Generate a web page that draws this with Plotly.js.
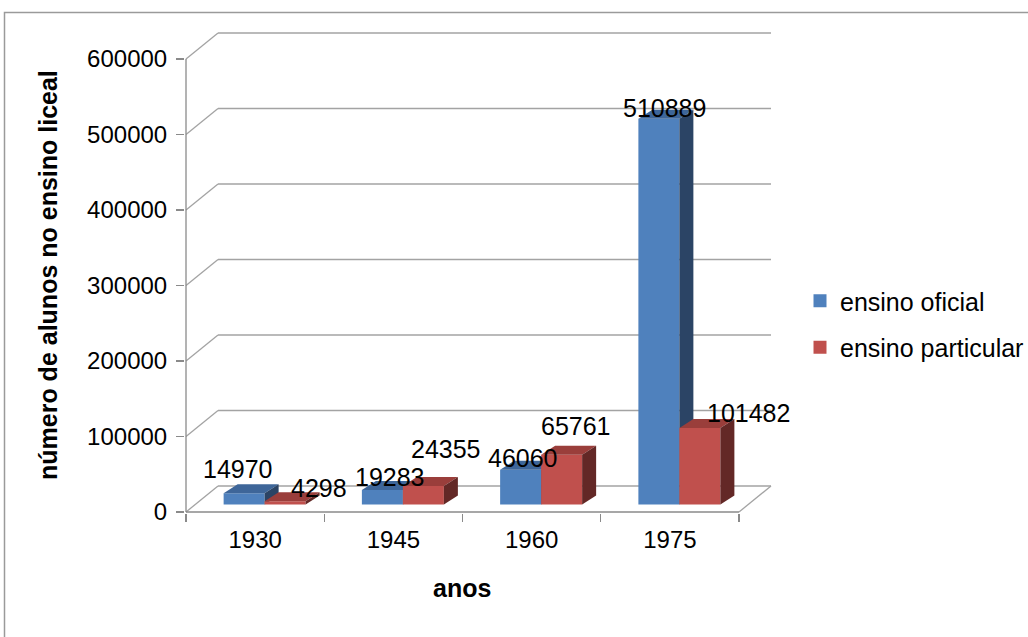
<!DOCTYPE html>
<html><head><meta charset="utf-8">
<script src="https://cdn.plot.ly/plotly-3.0.1.min.js"></script>
<style>html,body{margin:0;padding:0;background:#fff;overflow:hidden}#chart{width:1028px;height:637px}</style>
</head><body><div id="chart"></div>
<script>
// ---- data ----
const categories = ['1930', '1945', '1960', '1975'];
const seriesNames = ['ensino oficial', 'ensino particular'];
const ensinoOficial = [14970, 19283, 46060, 510889];
const ensinoParticular = [4298, 24355, 65761, 101482];
const yTickValues = [0, 100000, 200000, 300000, 400000, 500000, 600000];
const yTickLabels = ['0', '100000', '200000', '300000', '400000', '500000', '600000'];
const xTitle = 'anos';
const yTitle = 'número de alunos no ensino liceal';

// ---- styles ----
const frontColors = ['#4F81BD', '#C0504D'];
const topColors = ['#3E6699', '#9A3E3B'];
const sideColors = ['#2B4465', '#632826'];
const gridColor = '#a3a3a3';
const axisColor = '#8a8a8a';
const FONT = '"Liberation Sans", Arial, sans-serif';
// label offsets in px (right, up) from the centre of each bar's top face
const labelOffsets = [
  [[-13, 20], [1, 8], [-5, 7], [-1, 6]],
  [[27, 9], [16, 33], [7, 24], [42, 10]]
];

// ---- geometry (px) ----
const W = 1028, H = 637;
const PL = 185, PR = 772, PT = 28, PB = 513;   // plot area
const AX = 186, AY = 512;                      // front axis origin
const CW = 138.25;                             // px per category
const SY = 75.5 / 100000;                      // px per unit
const WALL = [32, 26];                         // back wall offset (right, up)
const BAR_OFF = [9.5, 7.5], BAR_W = 41, DEPTH = [14, 9];
const dx = p => p / CW, dy = p => p / SY;
const xMin = -0.5 - dx(AX - PL), xMax = -0.5 + dx(PR - AX);
const yMin = -dy(PB - AY), yMax = dy(AY - PT);
const pX = p => (p - PL) / (PR - PL);
const pY = p => (PB - p) / (PB - PT);

const series = [ensinoOficial, ensinoParticular];
const n = categories.length;
const traces = [];

// back wall gridlines + diagonals
const xL = -0.5 + dx(WALL[0]), xR = n - 0.5 + dx(WALL[0]);
const gx = [], gy = [], qx = [], qy = [];
yTickValues.forEach(v => {
  gx.push(xL, xR, null); gy.push(v + dy(WALL[1]), v + dy(WALL[1]), null);
  qx.push(-0.5, xL, null); qy.push(v, v + dy(WALL[1]), null);
});
qx.push(n - 0.5, xR, null); qy.push(0, dy(WALL[1]), null);
traces.push({x: gx, y: gy, mode: 'lines', line: {color: gridColor, width: 1.3}, hoverinfo: 'skip', showlegend: false});
traces.push({x: qx, y: qy, mode: 'lines', line: {color: gridColor, width: 1.3}, hoverinfo: 'skip', showlegend: false});
// front axes
const maxTick = yTickValues[yTickValues.length - 1];
traces.push({x: [-0.5, -0.5, null, -0.5, n - 0.5], y: [maxTick, 0, null, 0, 0], mode: 'lines',
  line: {color: axisColor, width: 1.3}, hoverinfo: 'skip', showlegend: false});

// bars
function face(xs, ys, color) {
  traces.push({x: xs.concat([xs[0]]), y: ys.concat([ys[0]]), mode: 'lines', fill: 'toself',
    fillcolor: color, line: {width: 0, color: color}, hoverinfo: 'skip', showlegend: false});
}
const annotations = [];
for (let i = 0; i < n; i++) {
  for (let s = 0; s < series.length; s++) {
    const v = series[s][i];
    const x0 = i + dx(BAR_OFF[0] + (s === 0 ? -BAR_W : 0));
    const x1 = x0 + dx(BAR_W);
    const yb = dy(BAR_OFF[1]);
    const yt = yb + v;
    const ddx = dx(DEPTH[0]), ddy = dy(DEPTH[1]);
    face([x0, x1, x1, x0], [yb, yb, yt, yt], frontColors[s]);
    face([x0, x1, x1 + ddx, x0 + ddx], [yt, yt, yt + ddy, yt + ddy], topColors[s]);
    face([x1, x1 + ddx, x1 + ddx, x1], [yb, yb + ddy, yt + ddy, yt], sideColors[s]);
    const off = labelOffsets[s][i];
    annotations.push({x: (x0 + x1) / 2 + ddx / 2, y: yt + ddy / 2, xref: 'x', yref: 'y',
      text: String(v), showarrow: false, xanchor: 'center', yanchor: 'middle',
      xshift: off[0], yshift: off[1], font: {family: FONT, size: 25, color: '#000'}});
  }
}

// legend entries
for (let s = 0; s < series.length; s++) {
  traces.push({x: [null], y: [null], mode: 'markers', name: seriesNames[s], legendgroup: 'g' + s,
    marker: {symbol: 'square', size: 13, color: frontColors[s]}, hoverinfo: 'skip'});
}

// axis titles
annotations.push({x: pX(48), y: pY(275), xref: 'paper', yref: 'paper', text: '<b>' + yTitle + '</b>',
  textangle: -90, showarrow: false, xanchor: 'center', yanchor: 'middle', font: {family: FONT, size: 25, color: '#000'}});
annotations.push({x: pX(462), y: pY(588), xref: 'paper', yref: 'paper', text: '<b>' + xTitle + '</b>',
  showarrow: false, xanchor: 'center', yanchor: 'middle', font: {family: FONT, size: 25, color: '#000'}});

const boundaries = [];
for (let i = 0; i <= n; i++) boundaries.push(i - 0.5);

const layout = {
  width: W, height: H,
  margin: {l: PL, r: W - PR, t: PT, b: H - PB, pad: 0, autoexpand: false},
  paper_bgcolor: '#ffffff', plot_bgcolor: 'rgba(0,0,0,0)',
  font: {family: FONT, size: 24, color: '#000'},
  showlegend: true,
  legend: {x: pX(800), xanchor: 'left', y: pY(278), yanchor: 'top', traceorder: 'grouped', tracegroupgap: 11,
    font: {family: FONT, size: 25, color: '#000'}, bgcolor: 'rgba(0,0,0,0)', itemclick: false, itemdoubleclick: false},
  xaxis: {range: [xMin, xMax], tickmode: 'array', tickvals: categories.map((c, i) => i), ticktext: categories,
    ticks: '', showgrid: false, zeroline: false, showline: false, ticklabelstandoff: 10, fixedrange: true,
    minor: {tickmode: 'array', tickvals: boundaries, ticks: 'outside', ticklen: 8, tickcolor: axisColor, tickwidth: 1.3, showgrid: false}},
  yaxis: {range: [yMin, yMax], tickmode: 'array', tickvals: yTickValues, ticktext: yTickLabels,
    ticks: 'outside', ticklen: 8, tickcolor: axisColor, tickwidth: 1.3, showgrid: false, zeroline: false, showline: false,
    ticklabelstandoff: 4, fixedrange: true},
  annotations: annotations,
  shapes: [{type: 'rect', xref: 'paper', yref: 'paper', x0: pX(4.5), x1: pX(1100), y0: pY(12.5), y1: pY(700),
    line: {color: '#9a9a9a', width: 1.5}, fillcolor: 'rgba(0,0,0,0)', layer: 'below'}]
};

Plotly.newPlot('chart', traces, layout, {displayModeBar: false, staticPlot: true});
</script>
</body></html>
